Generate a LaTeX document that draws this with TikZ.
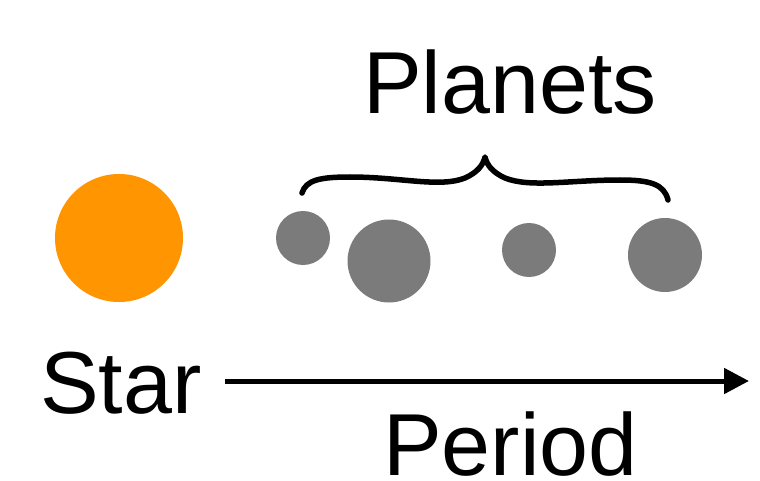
\documentclass[tikz,border=0pt]{standalone}
\usepackage{fontspec}
\setmainfont{Liberation Sans}
\usetikzlibrary{arrows.meta}
\definecolor{starorange}{HTML}{FF9500}
\definecolor{planetgray}{HTML}{7B7B7B}
\tikzset{
  bigtext/.style={inner sep=0pt, font=\fontsize{88}{100}\selectfont, anchor=base west},
  planet/.style={circle, fill=planetgray, inner sep=0pt},
}
\begin{document}
\begin{tikzpicture}[x=1pt,y=-1pt]
\useasboundingbox (0,0) rectangle (760,481);
\fill[white] (0,0) rectangle (760,481);
% star
\node[circle, fill=starorange, minimum size=128pt, inner sep=0pt] (star) at (119,238) {};
% planets
\node[planet, minimum size=54pt] (p1) at (303,238) {};
\node[planet, minimum size=83pt] (p2) at (389,261) {};
\node[planet, minimum size=54pt] (p3) at (529,250) {};
\node[planet, minimum size=74pt] (p4) at (665,255) {};
% brace
\draw[line width=5.5pt, line cap=round, line join=round]
  (302,193) .. controls (306,180) and (320,177) .. (350,177)
  .. controls (400,177) and (440,188) .. (465,178)
  .. controls (478,172) and (483,165) .. (485,157)
  .. controls (487,165) and (492,172) .. (505,178)
  .. controls (530,188) and (570,180) .. (620,180)
  .. controls (650,180) and (664,184) .. (668,200);
% texts
\node[bigtext] (planets) at (363,114) {Planets};
\node[bigtext] (startext) at (40,413) {Star};
\node[bigtext] (period) at (383,475) {Period};
% arrow
\coordinate (arrowend) at (749,381);
\draw[line width=5pt, -{Triangle[length=25pt,width=25pt]}] (225,381) -- (arrowend);
\end{tikzpicture}
\end{document}
